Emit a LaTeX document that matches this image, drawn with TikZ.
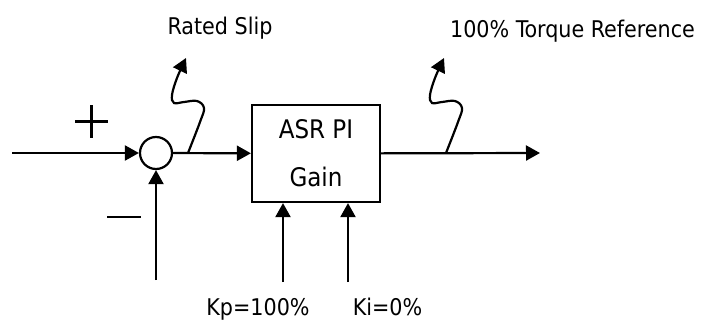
\documentclass[tikz,border=0pt]{standalone}
\usepackage{fontspec}
\setmainfont{DejaVu Sans Condensed}
\usetikzlibrary{arrows.meta,positioning}

\begin{document}
\begin{tikzpicture}[
  x=0.5pt, y=-0.5pt,
  line width=1.1pt,
  >={Triangle[length=7pt,width=7.5pt]},
  sumnode/.style={draw, circle, minimum size=16pt, inner sep=0pt},
  gainbox/.style={draw, minimum width=64pt, minimum height=48.5pt, align=center, font=\fontsize{12.8}{24}\selectfont},
  lbl/.style={font=\fontsize{11.5}{14}\selectfont, inner sep=0pt, anchor=base},
]
\useasboundingbox (0,0) rectangle (702,321);
\node[sumnode] (sum) at (156,153) {};
\node[gainbox] (asr) at (316,153.5) {ASR PI\\Gain};
\coordinate (in)  at (12,153);
\coordinate (fb)  at (156,280);
\coordinate (kp)  at (283,282);
\coordinate (ki)  at (348,282);
\coordinate (out) at (540,153);
\draw[->] (in) -- (sum);
\draw[->] (fb) -- (sum);
\draw[->] (sum) -- (asr);
\draw[->] (asr) -- (out);
\draw[->] (kp) -- (kp |- asr.south);
\draw[->] (ki) -- (ki |- asr.south);
% signs at the summing point
\draw (75,121.5) -- (108,121.5) (91.5,105) -- (91.5,138);
\draw (107,217) -- (141,217);
% wavy pointers to the labels
\foreach \s in {0,258}
  \draw[->,shift={(\s,0)}] plot[smooth,tension=0.6] coordinates {(188,153) (200,122) (204,108) (197,101) (184,102) (174,103) (172,95) (177,78) (186,58)};
\node[lbl] (slip) at (220,34)    {Rated Slip};
\node[lbl] (tref) at (572.5,38)  {100\% Torque Reference};
\node[lbl] (kpl)  at (258,315)   {Kp=100\%};
\node[lbl] (kil)  at (387.5,315) {Ki=0\%};
\end{tikzpicture}
\end{document}
